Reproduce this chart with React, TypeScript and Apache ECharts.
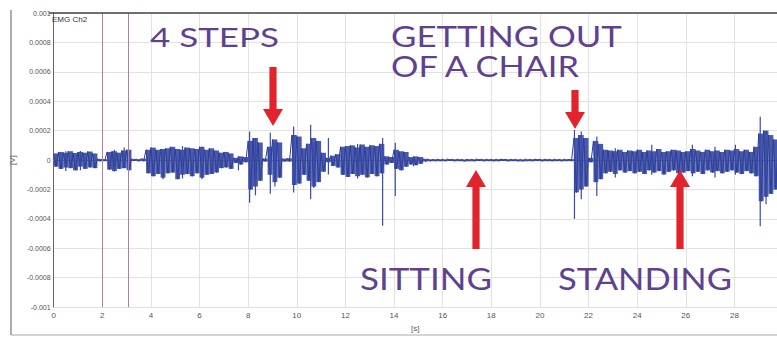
import React, { useEffect, useRef } from "react";
import * as echarts from "echarts";

// sampling step of the envelope (s)
const TIME_STEP = 0.2;

// EMG envelope, in µV (upper / lower extreme per 0.2 s bin, starting at t = 0)
const envelopeUpper = [
  45, 55, 50, 60, 48, 55, 50, 58, 45, 8,
  6, 55, 60, 50, 65, 70, 8, 6, 10, 70,
  85, 70, 75, 80, 90, 75, 70, 85, 80, 75,
  90, 70, 80, 65, 50, 55, 45, 15, 25, 20,
  130, 150, 120, 10, 90, 140, 120, 10, 12, 170,
  160, 80, 110, 150, 130, 50, 15, 30, 40, 90,
  95, 100, 85, 105, 90, 100, 95, 110, 25, 20,
  70, 60, 55, 20, 25, 20, 8, 6, 5, 6,
  5, 7, 5, 6, 4, 6, 5, 7, 5, 6,
  5, 6, 7, 5, 6, 5, 4, 6, 5, 7,
  5, 6, 5, 6, 5, 6, 6, 150, 170, 150,
  15, 130, 110, 70, 65, 60, 70, 55, 65, 60,
  70, 55, 65, 60, 75, 55, 60, 70, 65, 55,
  60, 75, 65, 55, 70, 60, 65, 55, 70, 65,
  75, 60, 70, 55, 90, 180, 200, 170, 140, 120,
];
const envelopeLower = [
  -45, -60, -50, -55, -70, -45, -60, -50, -55, -8,
  -6, -65, -75, -60, -55, -70, -6, -8, -8, -90,
  -110, -95, -120, -90, -85, -130, -100, -95, -110, -90,
  -120, -100, -95, -85, -55, -50, -60, -20, -30, -15,
  -200, -180, -140, -10, -100, -150, -120, -10, -10, -170,
  -160, -100, -140, -180, -150, -80, -15, -40, -50, -100,
  -115, -95, -110, -100, -118, -95, -110, -90, -30, -20,
  -60, -70, -45, -30, -35, -25, -10, -8, -6, -5,
  -6, -5, -7, -5, -6, -4, -6, -5, -7, -5,
  -6, -5, -4, -6, -5, -7, -5, -6, -4, -5,
  -6, -5, -6, -5, -6, -5, -6, -220, -200, -180,
  -15, -150, -130, -90, -80, -95, -70, -85, -75, -90,
  -80, -95, -70, -85, -75, -98, -80, -70, -90, -85,
  -75, -90, -80, -95, -70, -85, -75, -90, -80, -70,
  -85, -95, -75, -90, -110, -280, -250, -230, -200, -180,
];

// isolated spikes: [time s, low µV, high µV]
const spikes: number[][] = [
  [0.5, -75, 60], [1.1, -70, 62], [2.5, -78, 70], [2.9, -40, 85], [4.5, -130, 70],
  [5.3, -125, 95], [6.1, -130, 90], [7.6, -70, 20], [8.06, -290, 195], [8.3, -240, 150],
  [8.91, -230, 185], [9.1, -180, 120], [9.87, -220, 228], [10.57, -266, 240],
  [10.7, -190, 120], [11.3, -98, 150], [12.5, -125, 110], [13.53, -446, 150],
  [14.05, -244, 118], [14.8, -42, 20], [21.42, -400, 205], [21.7, -266, 194],
  [22.34, -244, 160], [23.1, -118, 80], [24.6, -100, 104], [26.27, -110, 104],
  [27.2, -118, 90], [28.04, -100, 104], [29.06, -450, 295], [29.3, -300, 200],
];

// vertical markers (s)
const markers = [2, 3.05];

const X_MIN = 0;
const X_MAX = 29.75;
const X_INTERVAL = 2;
const Y_MIN = -0.001;
const Y_MAX = 0.001;
const Y_INTERVAL = 0.0002;

const SIGNAL_COLOR = "#3a4ba6";
const TEXT_COLOR = "#5f418f";
const ARROW_COLOR = "#e3232b";
const LABEL_FONT = "Lato";

function measure(text: string, font: string): number {
  const c = document.createElement("canvas").getContext("2d");
  if (!c) return text.length * 18;
  c.font = font;
  return c.measureText(text).width;
}

function label(text: string, left: number, capMid: number, size: number, width: number) {
  const font = `${size}px "${LABEL_FONT}"`;
  const w = measure(text, font);
  return {
    type: "text",
    x: left,
    y: capMid,
    scaleX: width / w,
    z: 100,
    style: {
      text,
      fill: TEXT_COLOR,
      font,
      align: "left",
      verticalAlign: "middle",
    },
  };
}

function arrow(x: number, from: number, tip: number) {
  const dir = tip > from ? 1 : -1;
  const headLen = 17;
  const base = tip - dir * headLen;
  const sw = 3.6;
  const hw = 10;
  return {
    type: "polygon",
    z: 100,
    shape: {
      points: [
        [x - sw, from],
        [x + sw, from],
        [x + sw, base],
        [x + hw, base],
        [x, tip],
        [x - hw, base],
        [x - sw, base],
      ],
    },
    style: { fill: ARROW_COLOR },
  };
}

export default function App() {
  const ref = useRef<HTMLDivElement>(null);
  useEffect(() => {
    if (!ref.current) return;
    const chart = echarts.init(ref.current, undefined, { renderer: "svg" });

    const envelope = envelopeUpper.map((u, i) => [
      +(i * TIME_STEP).toFixed(3),
      envelopeLower[i] * 1e-6,
      u * 1e-6,
    ]);
    const signal: number[][] = [];
    envelopeUpper.forEach((u, i) => {
      const t = +(i * TIME_STEP).toFixed(3);
      signal.push([t, u * 1e-6]);
      signal.push([+(t + TIME_STEP / 2).toFixed(3), envelopeLower[i] * 1e-6]);
    });
    const spikeData = spikes.map(([t, lo, hi]) => [t, lo * 1e-6, hi * 1e-6]);

    chart.setOption({
      animation: false,
      backgroundColor: "#ffffff",
      grid: { left: 50, right: 0, top: 13, bottom: 26, containLabel: false },
      xAxis: {
        type: "value",
        min: X_MIN,
        max: X_MAX,
        interval: X_INTERVAL,
        name: "[s]",
        nameLocation: "middle",
        nameGap: 15,
        nameTextStyle: { fontSize: 8, color: "#555", fontFamily: "Liberation Sans" },
        axisLine: { show: true, lineStyle: { color: "#888", width: 1 } },
        axisTick: { show: false },
        axisLabel: {
          fontSize: 8,
          color: "#555",
          margin: 4,
          fontFamily: "Liberation Sans",
          showMaxLabel: false,
        },
        splitLine: { show: true, lineStyle: { color: "#e2e2e2", width: 1 } },
      },
      yAxis: {
        type: "value",
        min: Y_MIN,
        max: Y_MAX,
        interval: Y_INTERVAL,
        name: "[V]",
        nameLocation: "middle",
        nameGap: 30,
        nameTextStyle: { fontSize: 8, color: "#555", fontFamily: "Liberation Sans" },
        axisLine: { show: true, lineStyle: { color: "#666", width: 1 } },
        axisTick: { show: false },
        axisLabel: {
          fontSize: 7,
          color: "#555",
          margin: 3,
          fontFamily: "Liberation Sans",
        },
        splitLine: { show: true, lineStyle: { color: "#e2e2e2", width: 1 } },
      },
      series: [
        {
          type: "custom",
          data: envelope,
          encode: { x: 0, y: [1, 2] },
          z: 2,
          clip: true,
          renderItem: (_params: any, api: any) => {
            const t = api.value(0);
            const a = api.coord([t, api.value(2)]);
            const b = api.coord([t + TIME_STEP, api.value(1)]);
            return {
              type: "rect",
              shape: { x: a[0], y: a[1], width: b[0] - a[0], height: Math.max(b[1] - a[1], 2) },
              style: { fill: SIGNAL_COLOR, opacity: 0.92 },
            };
          },
        },
        {
          type: "line",
          data: signal,
          showSymbol: false,
          symbol: "none",
          lineStyle: { color: "#2e3f96", width: 1 },
          z: 3,
          markLine: {
            silent: true,
            symbol: "none",
            label: { show: false },
            lineStyle: { color: "#a97fa8", width: 1, type: "solid" },
            data: markers.map((m) => ({ xAxis: m })),
          },
        },
        {
          type: "custom",
          data: spikeData,
          encode: { x: 0, y: [1, 2] },
          z: 4,
          clip: true,
          renderItem: (_params: any, api: any) => {
            const a = api.coord([api.value(0), api.value(1)]);
            const b = api.coord([api.value(0), api.value(2)]);
            return {
              type: "line",
              shape: { x1: a[0], y1: a[1], x2: b[0], y2: b[1] },
              style: { stroke: SIGNAL_COLOR, lineWidth: 1.2 },
            };
          },
        },
      ],
      graphic: [
        { type: "line", z: 50, shape: { x1: 11, y1: 10, x2: 11, y2: 335 }, style: { stroke: "#777", lineWidth: 1.2 } },
        { type: "line", z: 50, shape: { x1: 11, y1: 335, x2: 777, y2: 335 }, style: { stroke: "#aaa", lineWidth: 1 } },
        { type: "line", z: 50, shape: { x1: 49, y1: 13, x2: 777, y2: 13 }, style: { stroke: "#444", lineWidth: 1.6 } },
        {
          type: "text",
          x: 52,
          y: 19,
          z: 60,
          style: { text: "EMG Ch2", fill: "#333", font: '8px "Liberation Sans"', verticalAlign: "middle" },
        },
        label("4 STEPS", 150, 37, 26, 129),
        label("GETTING OUT", 391, 36, 28, 231),
        label("OF A CHAIR", 391, 66, 28, 191),
        label("SITTING", 360, 278, 30, 132),
        label("STANDING", 558, 278, 30, 174),
        arrow(273, 67, 126),
        arrow(575, 90, 129),
        arrow(476, 249, 170),
        arrow(680, 249, 170),
      ],
    });
    return () => chart.dispose();
  }, []);
  return (
    <div
      ref={ref}
      style={{ position: "fixed", left: 0, top: 0, width: 777, height: 337, background: "#fff" }}
    />
  );
}
